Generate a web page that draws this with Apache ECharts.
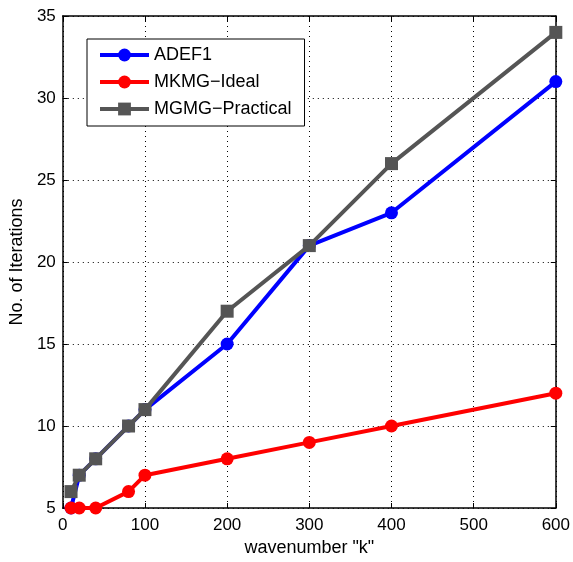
<!DOCTYPE html>
<html>
<head>
<meta charset="utf-8">
<script src="https://cdn.jsdelivr.net/npm/echarts@6/dist/echarts.min.js"></script>
<style>
  html, body { margin: 0; padding: 0; background: #fff; }
  #chart { width: 573px; height: 562px; }
</style>
</head>
<body>
<div id="chart"></div>
<script>
// Wavenumber values and iteration counts for each solver
const wavenumbers = [10, 20, 40, 80, 100, 200, 300, 400, 600];
const adef1 = [5, 7, 8, 10, 11, 15, 21, 23, 31];
const mkmgIdeal = [5, 5, 5, 6, 7, 8, 9, 10, 12];
const mgmgPractical = [6, 7, 8, 10, 11, 17, 21, 26, 34];

const FONT = 'Liberation Sans, Arial, Helvetica, sans-serif';

function pairs(ys) {
  return wavenumbers.map((x, i) => [x, ys[i]]);
}

const chart = echarts.init(document.getElementById('chart'), null, { renderer: 'canvas' });

const gridLine = { show: true, lineStyle: { color: '#000', width: 1, type: [1, 4] } };
const boxLine = { show: true, onZero: false, lineStyle: { color: '#000', width: 1.5 } };
const innerTick = { show: true, inside: true, length: 5, lineStyle: { color: '#000', width: 1 } };

chart.setOption({
  animation: false,
  backgroundColor: '#fff',
  grid: { left: 62, right: 17, top: 16, bottom: 52, containLabel: false },
  legend: {
    show: true,
    left: 87,
    top: 39,
    orient: 'vertical',
    backgroundColor: '#fff',
    borderColor: '#000',
    borderWidth: 1,
    padding: [7, 13, 8, 11],
    itemGap: 9,
    itemWidth: 49,
    itemHeight: 16,
    lineStyle: { width: 4 },
    textStyle: { fontFamily: FONT, fontSize: 18, color: '#000' },
    data: ['ADEF1', 'MKMG\u2212Ideal', 'MGMG\u2212Practical']
  },
  xAxis: [
    {
      type: 'value', min: 0, max: 600, interval: 100,
      name: 'wavenumber "k"', nameLocation: 'middle', nameGap: 31,
      nameTextStyle: { fontFamily: FONT, fontSize: 18, color: '#000' },
      axisLine: boxLine, axisTick: innerTick,
      axisLabel: { fontFamily: FONT, fontSize: 17, color: '#000', margin: 9 },
      splitLine: gridLine
    },
    {
      type: 'value', position: 'top', min: 0, max: 600, interval: 100,
      axisLine: boxLine, axisTick: innerTick,
      axisLabel: { show: false }, splitLine: { show: false }
    }
  ],
  yAxis: [
    {
      type: 'value', min: 5, max: 35, interval: 5,
      name: 'No. of Iterations', nameLocation: 'middle', nameGap: 33,
      nameTextStyle: { fontFamily: FONT, fontSize: 18, color: '#000' },
      axisLine: boxLine, axisTick: innerTick,
      axisLabel: { fontFamily: FONT, fontSize: 17, color: '#000', margin: 7 },
      splitLine: gridLine
    },
    {
      type: 'value', position: 'right', min: 5, max: 35, interval: 5,
      axisLine: boxLine, axisTick: innerTick,
      axisLabel: { show: false }, splitLine: { show: false }
    }
  ],
  series: [
    {
      name: 'ADEF1', type: 'line', data: pairs(adef1),
      symbol: 'circle', symbolSize: 13,
      lineStyle: { color: '#0000ff', width: 4 },
      itemStyle: { color: '#0000ff' },
      z: 3
    },
    {
      name: 'MKMG\u2212Ideal', type: 'line', data: pairs(mkmgIdeal),
      symbol: 'circle', symbolSize: 13,
      lineStyle: { color: '#ff0000', width: 4 },
      itemStyle: { color: '#ff0000' },
      z: 3
    },
    {
      name: 'MGMG\u2212Practical', type: 'line', data: pairs(mgmgPractical),
      symbol: 'rect', symbolSize: 13,
      lineStyle: { color: '#555555', width: 4 },
      itemStyle: { color: '#555555' },
      z: 4
    }
  ]
});
</script>
</body>
</html>
